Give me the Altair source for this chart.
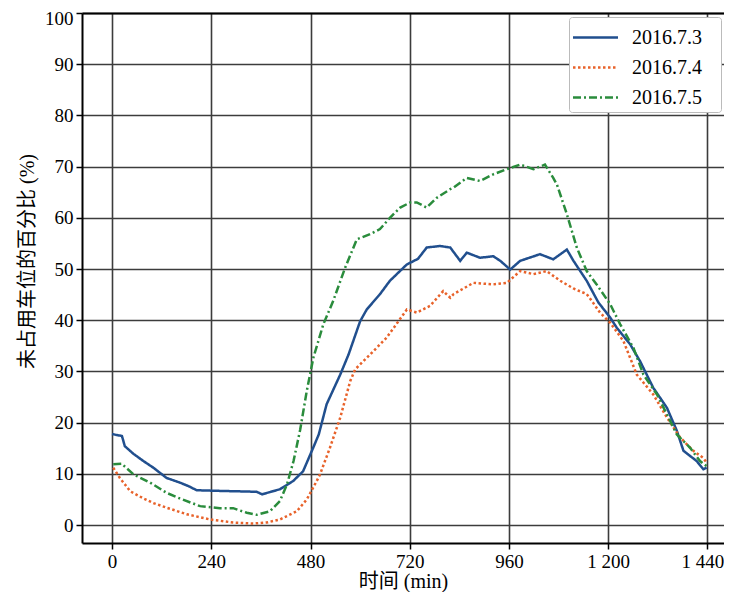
import altair as alt
import pandas as pd

series_names = ["2016.7.3", "2016.7.4", "2016.7.5"]

x_0703 = [0, 10, 24, 31, 52, 76, 100, 132, 164, 185, 205, 250, 300, 350, 363, 380, 406, 438, 462, 470, 486, 500,
          519, 552, 572, 600, 616, 648, 672, 713, 740, 761, 793, 818, 842, 858, 890, 922, 939, 963, 987, 1035,
          1067, 1100, 1116, 1148, 1176, 1205, 1221, 1253, 1277, 1309, 1342, 1366, 1382, 1414, 1430, 1438]
y_0703 = [17.8, 17.6, 17.4, 15.4, 13.9, 12.5, 11.2, 9.2, 8.3, 7.6, 6.8, 6.7, 6.6, 6.5, 6.0, 6.4, 7.0, 8.6, 10.5, 12.0,
          15.0, 17.7, 23.6, 29.4, 33.3, 39.8, 42.1, 45.1, 47.7, 50.9, 52.0, 54.2, 54.5, 54.2, 51.6, 53.2, 52.2, 52.5,
          51.6, 49.9, 51.6, 52.9, 51.9, 53.8, 51.6, 47.7, 43.5, 40.5, 38.5, 35.3, 32.0, 26.8, 22.9, 18.4, 14.5, 12.5,
          10.9, 11.2]

x_0704 = [3, 19, 44, 76, 100, 132, 181, 237, 293, 342, 374, 406, 447, 471, 495, 503, 527, 552, 576, 588, 624, 664,
          690, 713, 737, 769, 801, 818, 826, 874, 922, 955, 987, 1019, 1051, 1084, 1116, 1148, 1160, 1180, 1205,
          1237, 1269, 1309, 1342, 1374, 1406, 1430, 1438]
y_0704 = [11.2, 9.2, 6.6, 5.2, 4.3, 3.4, 2.1, 1.1, 0.5, 0.3, 0.5, 1.1, 2.7, 5.0, 8.6, 9.9, 15.1, 21.0, 28.1, 30.4,
          33.3, 36.6, 39.5, 42.1, 41.5, 42.8, 45.7, 44.4, 45.1, 47.3, 47.0, 47.3, 49.6, 49.0, 49.6, 47.7, 46.2, 45.1,
          43.8, 41.5, 39.5, 35.9, 29.4, 25.5, 21.0, 17.1, 14.5, 13.1, 12.2]

x_0705 = [3, 23, 52, 92, 132, 164, 213, 261, 293, 326, 350, 382, 406, 423, 439, 455, 471, 487, 511, 535, 564, 592,
          624, 648, 672, 697, 721, 737, 761, 785, 818, 826, 858, 890, 922, 955, 987, 1019, 1047, 1067, 1076, 1100,
          1124, 1148, 1172, 1205, 1229, 1261, 1285, 1318, 1342, 1366, 1398, 1422, 1438]
y_0705 = [11.9, 12.0, 9.9, 8.3, 6.3, 5.2, 3.7, 3.3, 3.3, 2.4, 2.0, 2.7, 4.7, 7.9, 12.5, 18.6, 26.2, 32.7, 39.2, 43.8,
          50.3, 55.8, 56.8, 57.8, 60.0, 62.0, 63.0, 63.0, 62.0, 63.9, 65.6, 65.9, 67.8, 67.2, 68.5, 69.5, 70.4, 69.5,
          70.4, 67.8, 66.5, 60.7, 54.2, 49.6, 47.0, 43.1, 39.2, 34.6, 29.4, 25.5, 21.6, 17.7, 15.1, 12.5, 11.5]

x_ticks = [0, 240, 480, 720, 960, 1200, 1440]
y_ticks = [0, 10, 20, 30, 40, 50, 60, 70, 80, 90, 100]

colors = ["#214f8e", "#e8622a", "#2a8c3c"]
dashes = [[1, 0], [2.5, 2.5], [8, 3, 2, 3]]

rows = []
for name, xs, ys in zip(series_names, [x_0703, x_0704, x_0705], [y_0703, y_0704, y_0705]):
    for i, (a, b) in enumerate(zip(xs, ys)):
        rows.append({"date": name, "minute": a, "value": b, "order": i})
df = pd.DataFrame(rows)

serif = "Liberation Serif"
mixed = "Liberation Serif, Noto Sans CJK SC"

x_scale = alt.Scale(domain=[-72.6, 1480], nice=False, zero=False)
y_scale = alt.Scale(domain=[-3.5, 100], nice=False, zero=False)

common = dict(labelFont=serif, labelFontSize=19, labelColor="black",
              titleFont=mixed, titleFontSize=20, titleFontWeight="normal", titleColor="black",
              domainColor="black", domainWidth=2,
              tickColor="black", tickSize=6, tickWidth=1.5,
              gridColor="#3c3c3c", gridWidth=1.6, gridOpacity=1)

lines = alt.Chart(df).mark_line(strokeWidth=2.5).encode(
    x=alt.X("minute:Q", scale=x_scale,
            axis=alt.Axis(values=x_ticks, title="时间 (min)", grid=True,
                          labelExpr="datum.value >= 1000 ? replace(format(datum.value, ','), ',', ' ') : datum.label",
                          labelOffset=alt.ConditionalAxisNumber(condition={"test": "datum.value == 1440", "value": -5}, value=0),
                          labelPadding=3, titlePadding=0, **common)),
    y=alt.Y("value:Q", scale=y_scale,
            axis=alt.Axis(values=y_ticks, title="未占用车位的百分比 (%)", grid=True,
                          labelOffset=alt.ConditionalAxisNumber(condition={"test": "datum.value == 100", "value": 5}, value=0),
                          labelPadding=3, titlePadding=7, titleY=248, **common)),
    color=alt.Color("date:N", scale=alt.Scale(domain=series_names, range=colors),
                    legend=alt.Legend(title=None, orient="none", legendX=487, legendY=4,
                                      symbolType="M-1.5,0L1.5,0", symbolSize=900, symbolStrokeWidth=2.5,
                                      symbolOffset=6,
                                      labelFont=serif, labelFontSize=20, labelColor="black",
                                      labelExpr="datum.label + '\u2800'",
                                      labelOffset=20, rowPadding=3, padding=4,
                                      fillColor="white", strokeColor="#bbbbbb", cornerRadius=3)),
    strokeDash=alt.StrokeDash("date:N", scale=alt.Scale(domain=series_names, range=dashes), legend=None),
    order="order:Q",
)

top_frame = alt.Chart(df).mark_rule(opacity=0).encode(
    x=alt.X("minute:Q", scale=x_scale,
            axis=alt.Axis(orient="top", labels=False, ticks=False, grid=False, title=None,
                          domainColor="black", domainWidth=2)),
)

chart = alt.layer(lines, top_frame).resolve_axis(x="independent").properties(
    width=642, height=530,
    autosize=alt.AutoSizeParams(type="none"),
    padding={"left": 74, "top": 5, "right": 0, "bottom": 49},
).configure_view(stroke=None)

chart.save("out.html", embed_options={"renderer": "svg", "actions": False})
